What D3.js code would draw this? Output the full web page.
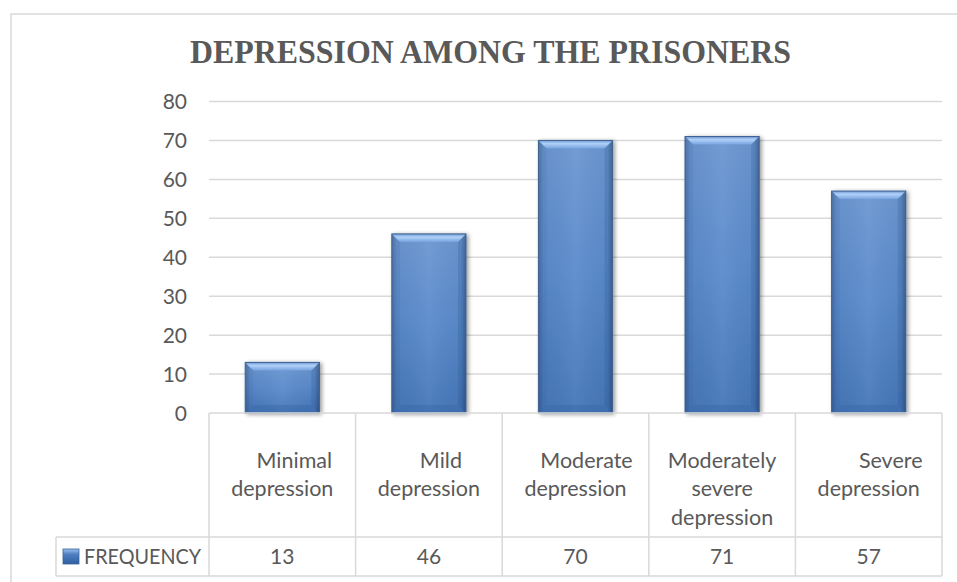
<!DOCTYPE html>
<html>
<head>
<meta charset="utf-8">
<script src="https://cdn.jsdelivr.net/npm/d3@7"></script>
<style>
  html, body { margin: 0; padding: 0; background: #ffffff; }
  svg { display: block; }
  text { fill: #595959; }
</style>
</head>
<body>
<script>
// Depression severity categories (lines as wrapped in the data table header)
const categories = [
  ["Minimal", "depression"],
  ["Mild", "depression"],
  ["Moderate", "depression"],
  ["Moderately", "severe", "depression"],
  ["Severe", "depression"]
];
const seriesName = "FREQUENCY";
const frequency = [13, 46, 70, 71, 57];
const yTicks = [0, 10, 20, 30, 40, 50, 60, 70, 80];
const titleText = "DEPRESSION AMONG THE PRISONERS";

// first-line indent of each header label (px)
const firstLineIndent = [12, 12, 11, 0, 22];

const W = 957, H = 582;
const svg = d3.select("body").append("svg").attr("width", W).attr("height", H);
const defs = svg.append("defs");

// chart frame
svg.append("rect")
  .attr("x", 11).attr("y", 14).attr("width", W + 20).attr("height", H + 20)
  .attr("fill", "#fff").attr("stroke", "#d9d9d9").attr("stroke-width", 1.5);

// title
svg.append("text")
  .attr("x", 190).attr("y", 63)
  .attr("textLength", 601).attr("lengthAdjust", "spacingAndGlyphs")
  .style("font-family", "'Liberation Serif', 'Times New Roman', serif")
  .style("font-weight", "bold").style("font-size", "34px")
  .text(titleText);

const plotLeft = 209, plotRight = 942;
const x = d3.scaleBand().domain(d3.range(categories.length)).range([plotLeft, plotRight]).padding(0);
const y = d3.scaleLinear().domain([0, 80]).range([413, 101.5]);

const font = "Lato, 'Open Sans', sans-serif";
const textGray = "#606060";

// gridlines
svg.append("g").selectAll("line").data(yTicks.filter(t => t > 0)).join("line")
  .attr("x1", plotLeft).attr("x2", plotRight)
  .attr("y1", d => y(d)).attr("y2", d => y(d))
  .attr("stroke", "#d9d9d9").attr("stroke-width", 1.5);

// y axis labels
const yAxis = d3.axisLeft(y).tickValues(yTicks).tickSize(0).tickPadding(0);
const gy = svg.append("g").attr("transform", "translate(187,0)").call(yAxis);
gy.select(".domain").remove();
gy.selectAll("text")
  .style("font-family", font).style("font-size", "21px")
  .attr("fill", textGray).attr("dy", "0.35em");

// bar gradients
const gBody = defs.append("linearGradient").attr("id", "barBody").attr("x1", 0).attr("y1", 0).attr("x2", 0).attr("y2", 1);
gBody.append("stop").attr("offset", "0%").attr("stop-color", "#6c97d1");
gBody.append("stop").attr("offset", "50%").attr("stop-color", "#5a8acb");
gBody.append("stop").attr("offset", "100%").attr("stop-color", "#4676b8");

const gSide = defs.append("linearGradient").attr("id", "barSide").attr("x1", 0).attr("y1", 0).attr("x2", 1).attr("y2", 0);
gSide.append("stop").attr("offset", "0%").attr("stop-color", "#000").attr("stop-opacity", 0.22);
gSide.append("stop").attr("offset", "7%").attr("stop-color", "#000").attr("stop-opacity", 0.03);
gSide.append("stop").attr("offset", "50%").attr("stop-color", "#fff").attr("stop-opacity", 0.05);
gSide.append("stop").attr("offset", "93%").attr("stop-color", "#000").attr("stop-opacity", 0.03);
gSide.append("stop").attr("offset", "100%").attr("stop-color", "#000").attr("stop-opacity", 0.28);

const gTop = defs.append("linearGradient").attr("id", "barTop").attr("x1", 0).attr("y1", 0).attr("x2", 0).attr("y2", 1);
gTop.append("stop").attr("offset", "0%").attr("stop-color", "#6f9ad6");
gTop.append("stop").attr("offset", "40%").attr("stop-color", "#b0d1f8");
gTop.append("stop").attr("offset", "100%").attr("stop-color", "#77a3de");

const shadow = defs.append("filter").attr("id", "barShadow")
  .attr("x", "-20%").attr("y", "-20%").attr("width", "140%").attr("height", "140%");
shadow.append("feGaussianBlur").attr("in", "SourceAlpha").attr("stdDeviation", 2).attr("result", "b");
shadow.append("feOffset").attr("in", "b").attr("dx", 2).attr("dy", 1).attr("result", "o");
shadow.append("feComponentTransfer").attr("in", "o").attr("result", "s")
  .append("feFuncA").attr("type", "linear").attr("slope", 0.4);
const merge = shadow.append("feMerge");
merge.append("feMergeNode").attr("in", "s");
merge.append("feMergeNode").attr("in", "SourceGraphic");

// bars
const barFrac = 0.506;
const bw = x.bandwidth() * barFrac;
const bev = 8;
const bars = svg.append("g").selectAll("g").data(frequency).join("g")
  .attr("filter", "url(#barShadow)");
bars.each(function(v, i) {
  const g = d3.select(this);
  const x0 = x(i) + (x.bandwidth() - bw) / 2, x1 = x0 + bw;
  const y0 = y(v), y1 = y(0);
  g.append("rect").attr("x", x0).attr("y", y0).attr("width", bw).attr("height", y1 - y0)
    .attr("fill", "url(#barBody)");
  g.append("rect").attr("x", x0).attr("y", y0).attr("width", bw).attr("height", y1 - y0)
    .attr("fill", "url(#barSide)");
  // top bevel
  g.append("path")
    .attr("d", `M${x0},${y0}L${x1},${y0}L${x1 - bev},${y0 + bev}L${x0 + bev},${y0 + bev}Z`)
    .attr("fill", "url(#barTop)");
  // bottom bevel
  g.append("path")
    .attr("d", `M${x0},${y1}L${x1},${y1}L${x1 - bev},${y1 - bev}L${x0 + bev},${y1 - bev}Z`)
    .attr("fill", "#3a6aa9").attr("opacity", 0.5);
  // side bevels
  g.append("path")
    .attr("d", `M${x0},${y0}L${x0 + bev},${y0 + bev}L${x0 + bev},${y1 - bev}L${x0},${y1}Z`)
    .attr("fill", "#2f5d99").attr("opacity", 0.12);
  g.append("path")
    .attr("d", `M${x1},${y0}L${x1 - bev},${y0 + bev}L${x1 - bev},${y1 - bev}L${x1},${y1}Z`)
    .attr("fill", "#1f4a85").attr("opacity", 0.2);
  g.append("rect").attr("x", x0).attr("y", y0).attr("width", bw).attr("height", y1 - y0)
    .attr("fill", "none").attr("stroke", "#3f6190").attr("stroke-width", 1);
});

// data table
const rowTop = 413, rowMid = 537, rowBot = 576, legendLeft = 56;
const tbl = svg.append("g").attr("stroke", "#d9d9d9").attr("stroke-width", 1.5);
tbl.append("line").attr("x1", plotLeft).attr("x2", plotRight).attr("y1", rowTop).attr("y2", rowTop);
tbl.append("line").attr("x1", legendLeft).attr("x2", plotRight).attr("y1", rowMid).attr("y2", rowMid);
tbl.append("line").attr("x1", legendLeft).attr("x2", plotRight).attr("y1", rowBot).attr("y2", rowBot);
tbl.append("line").attr("x1", legendLeft).attr("x2", legendLeft).attr("y1", rowMid).attr("y2", rowBot);
tbl.selectAll("line.col").data(d3.range(categories.length + 1)).join("line").attr("class", "col")
  .attr("x1", i => i < categories.length ? x(i) : plotRight)
  .attr("x2", i => i < categories.length ? x(i) : plotRight)
  .attr("y1", rowTop).attr("y2", rowBot);

// header labels
const hdr = svg.append("g").selectAll("text").data(categories).join("text")
  .attr("text-anchor", "middle").attr("fill", textGray)
  .style("font-family", font).style("font-size", "21.5px");
hdr.each(function(lines, i) {
  const cx = x(i) + x.bandwidth() / 2;
  d3.select(this).selectAll("tspan").data(lines).join("tspan")
    .attr("x", (d, j) => cx + (j === 0 ? firstLineIndent[i] : 0))
    .attr("y", (d, j) => 468 + j * 28.3)
    .text(d => d);
});

// value row
svg.append("g").selectAll("text").data(frequency).join("text")
  .attr("x", (d, i) => x(i) + x.bandwidth() / 2).attr("y", 564)
  .attr("text-anchor", "middle").attr("fill", textGray)
  .style("font-family", font).style("font-size", "21px")
  .text(d => d);

// legend key + series name
const gKey = defs.append("linearGradient").attr("id", "keyGrad").attr("x1", 0).attr("y1", 0).attr("x2", 0).attr("y2", 1);
gKey.append("stop").attr("offset", "0%").attr("stop-color", "#9cc0ee");
gKey.append("stop").attr("offset", "35%").attr("stop-color", "#4f80c2");
gKey.append("stop").attr("offset", "100%").attr("stop-color", "#2e5f9f");
svg.append("rect").attr("x", 63).attr("y", 549).attr("width", 16).attr("height", 15)
  .attr("fill", "url(#keyGrad)").attr("stroke", "#3a6398").attr("stroke-width", 0.8);
svg.append("text").attr("x", 84).attr("y", 564).attr("fill", textGray)
  .attr("textLength", 117).attr("lengthAdjust", "spacingAndGlyphs")
  .style("font-family", font).style("font-size", "21px")
  .text(seriesName);
</script>
</body>
</html>
